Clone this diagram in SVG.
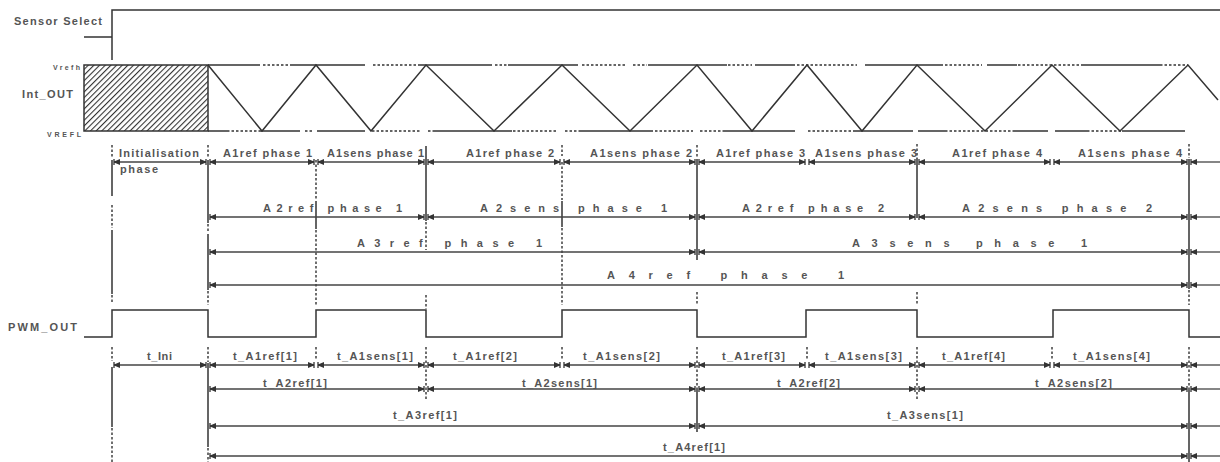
<svg xmlns="http://www.w3.org/2000/svg" width="1220" height="462" viewBox="0 0 1220 462">
<style>
.t{font-family:"Liberation Sans",Arial,sans-serif;font-weight:bold;fill:#555;font-size:11px}
.s{font-size:7px}
.w{fill:none;stroke:#333;stroke-width:1.5}
.l{stroke:#333;stroke-width:1.5;fill:none}
.d{stroke:#333;stroke-width:1.4;stroke-dasharray:2.5 2;fill:none}
.dim line{stroke:#444;stroke-width:1.3;marker-start:url(#ar);marker-end:url(#ar)}
.dim line.o{marker-end:none}
</style>
<defs>
<pattern id="hatch" width="4" height="4" patternUnits="userSpaceOnUse" patternTransform="rotate(45)">
<rect width="4" height="4" fill="#fff"/>
<line x1="0" y1="0" x2="0" y2="4" stroke="#333" stroke-width="2.2"/>
</pattern>
<marker id="ar" viewBox="-8 -4 9 8" refX="0" refY="0" markerWidth="9" markerHeight="8" markerUnits="userSpaceOnUse" orient="auto-start-reverse">
<path d="M0,-3V3" stroke="#333" stroke-width="1.3"/>
<path d="M0,-0.5L-6,-3V3L0,0.5Z" fill="#333"/>
</marker>
</defs>
<rect width="1220" height="462" fill="#fff"/>

<g id="sensor-select">
<text class="t" x="14" y="25" textLength="88">Sensor Select</text>
<path class="w" d="M84,37H112M112,60V10H1220"/>
</g>

<g id="int-out">
<text class="t s" x="53" y="70" textLength="27">Vrefh</text>
<text class="t" x="22" y="98" font-size="12" textLength="51">Int_OUT</text>
<text class="t s" x="47" y="137" textLength="34">VREFL</text>
<rect x="84" y="65" width="124" height="66" fill="url(#hatch)" stroke="#333" stroke-width="1.5"/>
<path class="l" d="M208,65H260M290,65H365M420,65H492M508,65H578M648,65H727M755,65H795M865,65H943M987,65H1017M1082,65H1160"/>
<path class="d" d="M263,65H290M373,65H420M495,65H507M582,65H625M633,65H647M728,65H752M797,65H857M945,65H982M1018,65H1082M1160,65H1188"/>
<path class="l" d="M208,131H227M260,131H300M317,131H365M433,131H512M580,131H653M723,131H795M853,131H913M918,131H945M1013,131H1048M1055,131H1087M1122,131H1185"/>
<path class="d" d="M227,131H260M305,131H312M372,131H420M428,131H433M513,131H557M565,131H580M655,131H693M700,131H723M808,131H853M945,131H1013M1087,131H1122"/>
<polyline class="w" points="208,65 262,131 316,65 371,131 426,65 494,131 562,65 630,131 697,65 752,131 807,65 862,131 917,65 985,131 1052,65 1120,131 1188,65 1218,100"/>
</g>

<g id="pwm-out">
<text class="t" x="8" y="331" textLength="69">PWM_OUT</text>
<polyline class="w" points="84,337 112,337 112,310 208,310 208,337 316,337 316,310 426,310 426,337 562,337 562,310 697,310 697,337 806,337 806,310 917,310 917,337 1053,337 1053,310 1189,310 1189,337 1220,337"/>
</g>

<g id="boundaries">
<path class="d" d="M112,145V158M112,205V228M112,295V304M208,145V158M208,224V233M208,291V305M316,160V200M316,230V305M426,222V250M426,295V309M562,145V156M562,162V200M562,228V305M697,145V158M697,292V305M917,144V158M917,292V305M1189,144V158M1189,290V305"/>
<path class="l" d="M112,160V196M112,230V294M208,160V223M208,234V290M316,201V229M426,146V221M562,201V227M697,159V260M917,158V218M1189,159V289"/>
<path class="d" d="M112,347V361M112,428V462M208,347V362M208,448V462M316,347V360M426,347V399M562,347V360M697,347V388M807,347V360M917,347V399M1052,347V360M1189,347V390"/>
<path class="l" d="M112,367V427M208,363V447M697,388V432M1189,390V462"/>
</g>

<g id="phase-rows" class="dim">
<line x1="114" y1="162" x2="206" y2="162"/>
<line x1="210" y1="162" x2="314" y2="162"/>
<line x1="318" y1="162" x2="424" y2="162"/>
<line x1="428" y1="162" x2="560" y2="162"/>
<line x1="564" y1="162" x2="695" y2="162"/>
<line x1="699" y1="162" x2="805" y2="162"/>
<line x1="809" y1="162" x2="915" y2="162"/>
<line x1="919" y1="162" x2="1050" y2="162"/>
<line x1="1054" y1="162" x2="1187" y2="162"/>
<line class="o" x1="1191" y1="162" x2="1220" y2="162"/>
<line x1="210" y1="217" x2="424" y2="217"/>
<line x1="428" y1="217" x2="695" y2="217"/>
<line x1="699" y1="217" x2="915" y2="217"/>
<line x1="919" y1="217" x2="1187" y2="217"/>
<line class="o" x1="1191" y1="217" x2="1220" y2="217"/>
<line x1="210" y1="252" x2="695" y2="252"/>
<line x1="699" y1="252" x2="1187" y2="252"/>
<line class="o" x1="1191" y1="252" x2="1220" y2="252"/>
<line x1="210" y1="285" x2="1187" y2="285"/>
<line class="o" x1="1191" y1="285" x2="1220" y2="285"/>
</g>

<g id="phase-labels">
<text class="t" x="119" y="157" textLength="80">Initialisation</text>
<text class="t" x="120" y="173" textLength="38">phase</text>
<text class="t" x="223" y="157" textLength="89">A1ref phase 1</text>
<text class="t" x="327" y="157" textLength="97">A1sens phase 1</text>
<text class="t" x="466" y="157" textLength="88">A1ref phase 2</text>
<text class="t" x="590" y="157" textLength="102">A1sens phase 2</text>
<text class="t" x="716" y="157" textLength="89">A1ref phase 3</text>
<text class="t" x="815" y="157" textLength="102">A1sens phase 3</text>
<text class="t" x="952" y="157" textLength="90">A1ref phase 4</text>
<text class="t" x="1078" y="157" textLength="104">A1sens phase 4</text>
<text class="t" x="263" y="212" textLength="139">A2ref phase 1</text>
<text class="t" x="480" y="212" textLength="187">A2sens phase 1</text>
<text class="t" x="742" y="212" textLength="142">A2ref phase 2</text>
<text class="t" x="962" y="212" textLength="190">A2sens phase 2</text>
<text class="t" x="357" y="247" textLength="185">A3ref phase 1</text>
<text class="t" x="852" y="247" textLength="235">A3sens phase 1</text>
<text class="t" x="607" y="279" textLength="237">A4ref phase 1</text>
</g>

<g id="time-rows" class="dim">
<line x1="114" y1="365" x2="206" y2="365"/>
<line x1="210" y1="365" x2="314" y2="365"/>
<line x1="318" y1="365" x2="424" y2="365"/>
<line x1="428" y1="365" x2="560" y2="365"/>
<line x1="564" y1="365" x2="695" y2="365"/>
<line x1="699" y1="365" x2="805" y2="365"/>
<line x1="809" y1="365" x2="915" y2="365"/>
<line x1="919" y1="365" x2="1050" y2="365"/>
<line x1="1054" y1="365" x2="1187" y2="365"/>
<line class="o" x1="1191" y1="365" x2="1220" y2="365"/>
<line x1="210" y1="389" x2="424" y2="389"/>
<line x1="428" y1="389" x2="695" y2="389"/>
<line x1="699" y1="389" x2="915" y2="389"/>
<line x1="919" y1="389" x2="1187" y2="389"/>
<line class="o" x1="1191" y1="389" x2="1220" y2="389"/>
<line x1="210" y1="426" x2="695" y2="426"/>
<line x1="699" y1="426" x2="1187" y2="426"/>
<line class="o" x1="1191" y1="426" x2="1220" y2="426"/>
<line x1="210" y1="456" x2="1187" y2="456"/>
<line class="o" x1="1191" y1="456" x2="1220" y2="456"/>
</g>

<g id="time-labels">
<text class="t" x="147" y="360" textLength="25">t_Ini</text>
<text class="t" x="233" y="360" textLength="64">t_A1ref[1]</text>
<text class="t" x="337" y="360" textLength="76">t_A1sens[1]</text>
<text class="t" x="453" y="360" textLength="64">t_A1ref[2]</text>
<text class="t" x="583" y="360" textLength="77">t_A1sens[2]</text>
<text class="t" x="722" y="360" textLength="63">t_A1ref[3]</text>
<text class="t" x="825" y="360" textLength="77">t_A1sens[3]</text>
<text class="t" x="942" y="360" textLength="63">t_A1ref[4]</text>
<text class="t" x="1073" y="360" textLength="77">t_A1sens[4]</text>
<text class="t" x="263" y="387" textLength="64">t_A2ref[1]</text>
<text class="t" x="522" y="387" textLength="75">t_A2sens[1]</text>
<text class="t" x="777" y="387" textLength="63">t_A2ref[2]</text>
<text class="t" x="1035" y="387" textLength="77">t_A2sens[2]</text>
<text class="t" x="393" y="419" textLength="64">t_A3ref[1]</text>
<text class="t" x="887" y="419" textLength="76">t_A3sens[1]</text>
<text class="t" x="663" y="451" textLength="62">t_A4ref[1]</text>
</g>
</svg>
